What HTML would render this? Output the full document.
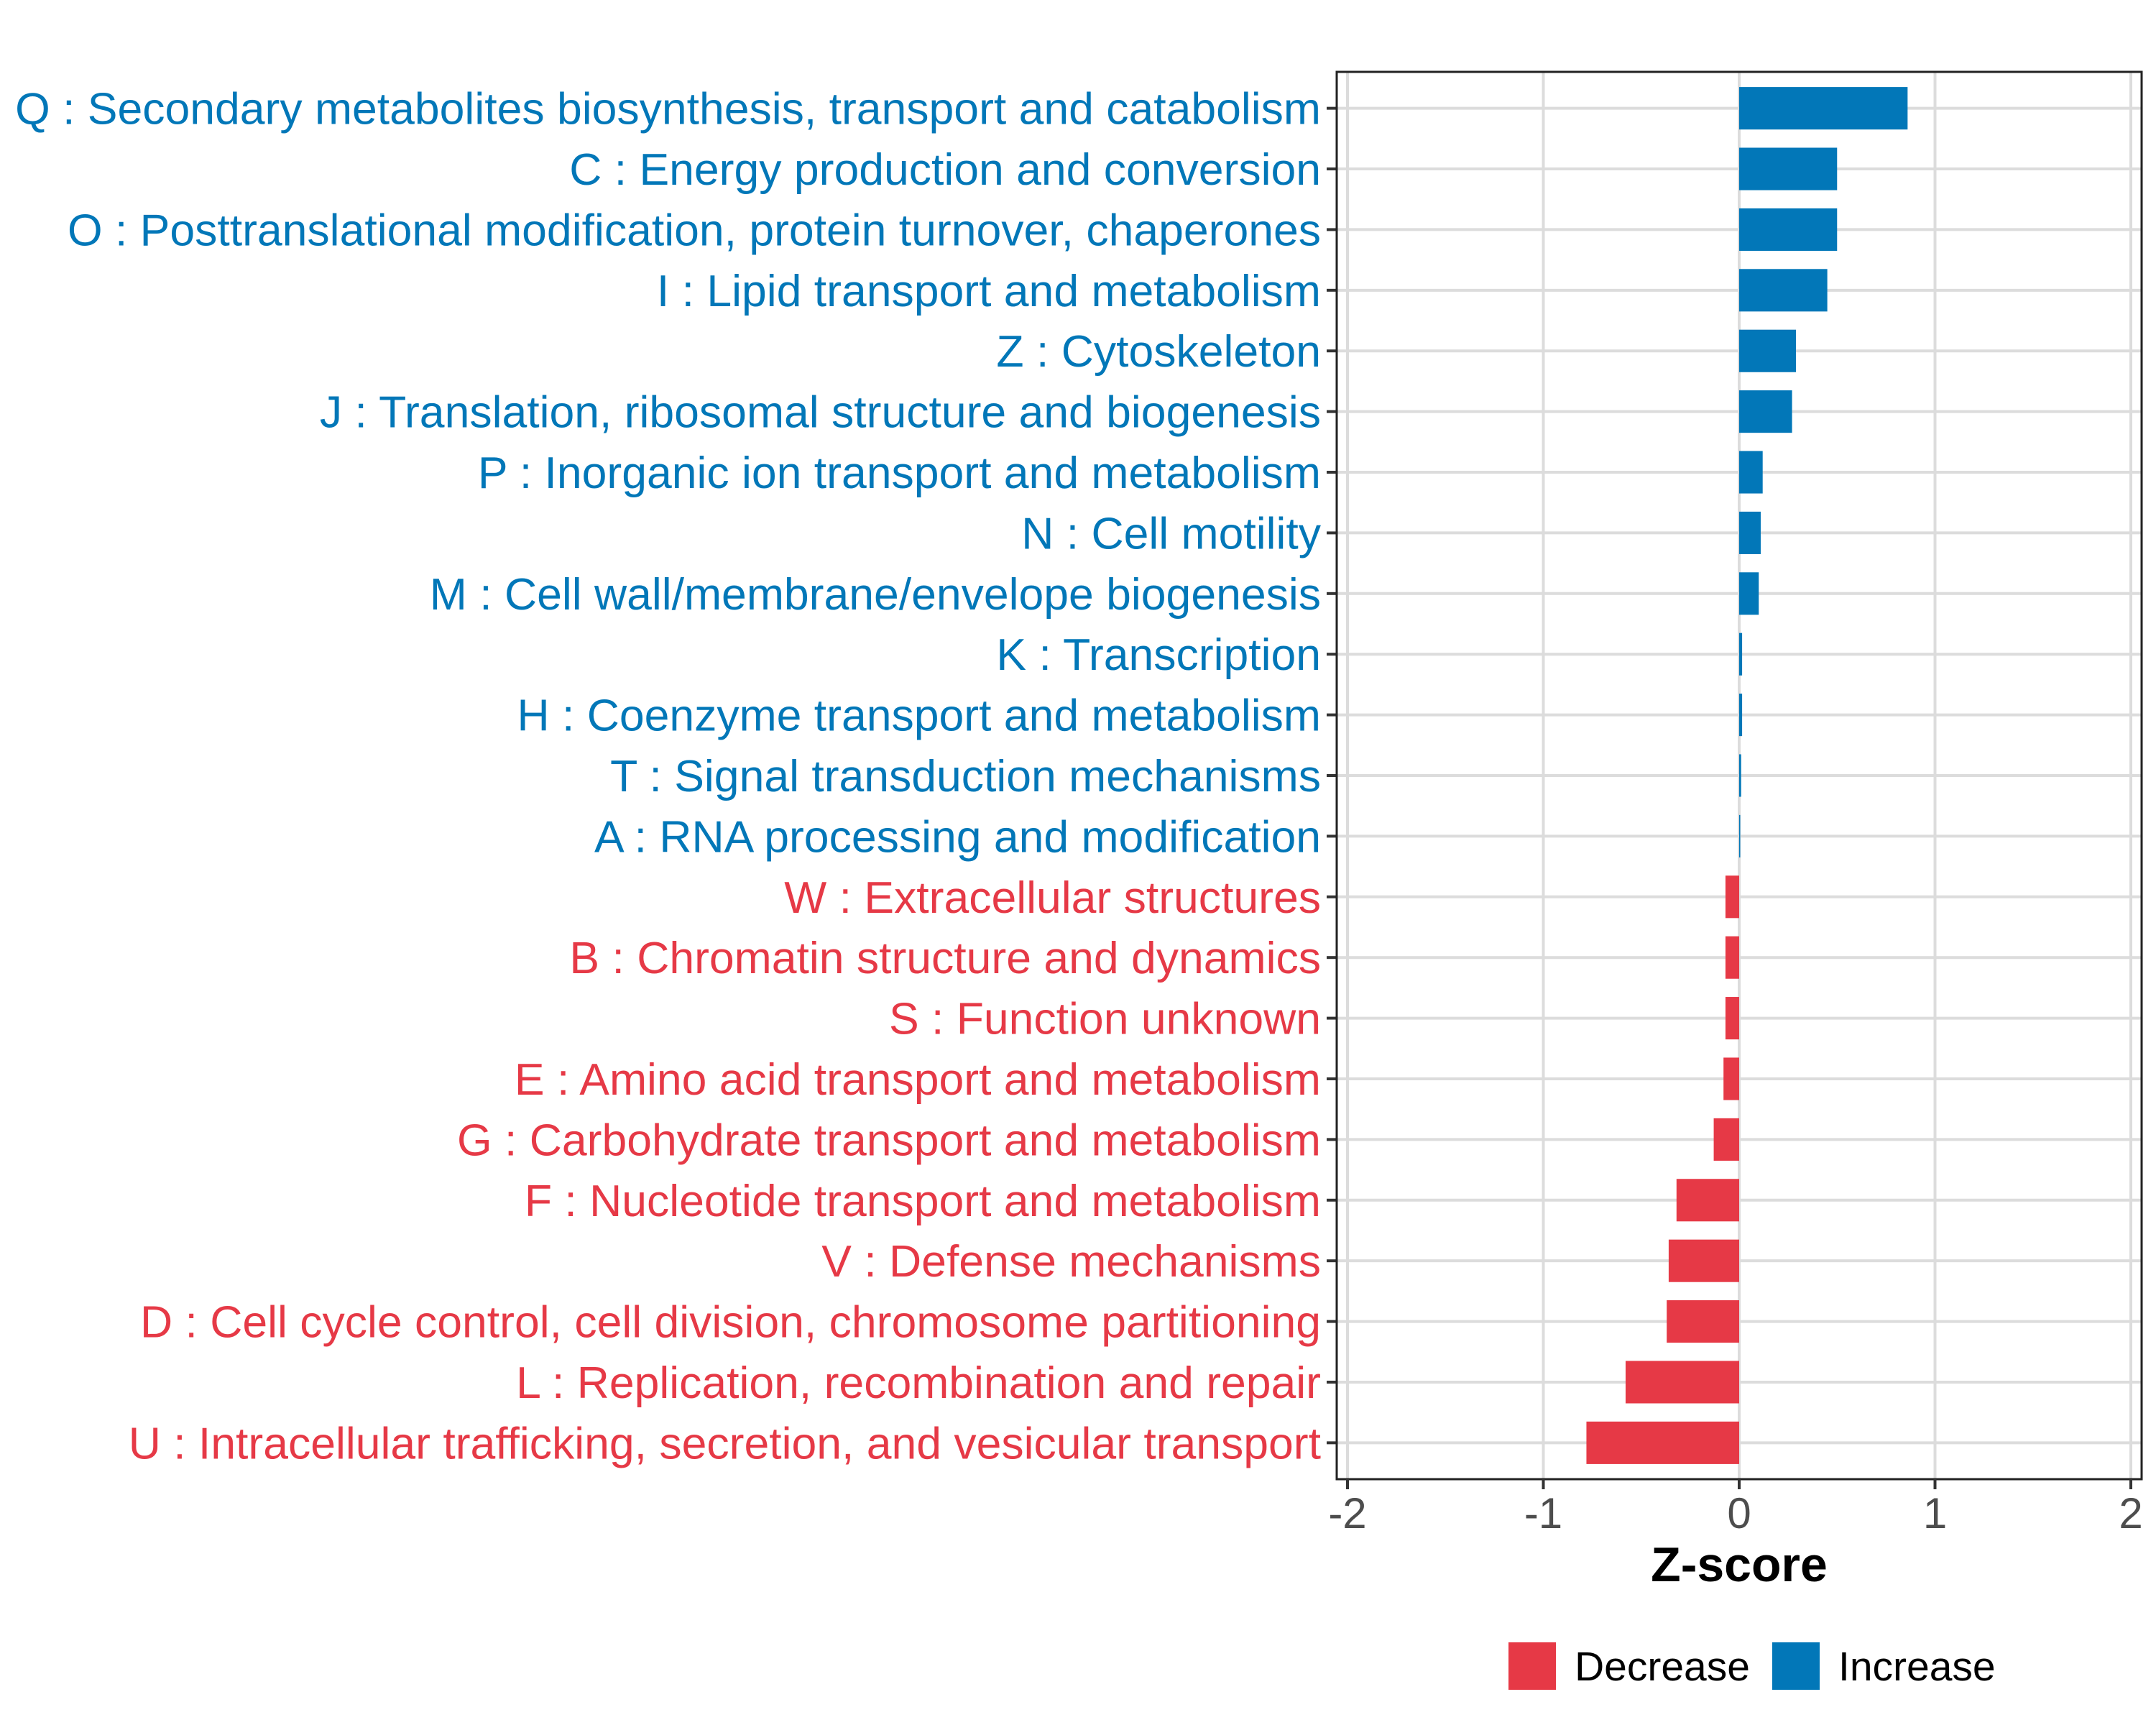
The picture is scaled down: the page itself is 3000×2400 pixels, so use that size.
<!DOCTYPE html>
<html><head><meta charset="utf-8"><style>html,body{margin:0;padding:0;background:#fff}svg{display:block}</style></head>
<body>
<svg id="chart" width="3000" height="2400" xmlns="http://www.w3.org/2000/svg" font-family="Liberation Sans, Arial, sans-serif"></svg>
<script>
const categories = ["Q : Secondary metabolites biosynthesis, transport and catabolism","C : Energy production and conversion","O : Posttranslational modification, protein turnover, chaperones","I : Lipid transport and metabolism","Z : Cytoskeleton","J : Translation, ribosomal structure and biogenesis","P : Inorganic ion transport and metabolism","N : Cell motility","M : Cell wall/membrane/envelope biogenesis","K : Transcription","H : Coenzyme transport and metabolism","T : Signal transduction mechanisms","A : RNA processing and modification","W : Extracellular structures","B : Chromatin structure and dynamics","S : Function unknown","E : Amino acid transport and metabolism","G : Carbohydrate transport and metabolism","F : Nucleotide transport and metabolism","V : Defense mechanisms","D : Cell cycle control, cell division, chromosome partitioning","L : Replication, recombination and repair","U : Intracellular trafficking, secretion, and vesicular transport"];
const zscores = [0.86,0.50,0.50,0.45,0.29,0.27,0.12,0.11,0.10,0.015,0.015,0.01,0.005,-0.07,-0.07,-0.07,-0.08,-0.13,-0.32,-0.36,-0.37,-0.58,-0.78];
const xTicks = [-2,-1,0,1,2];
const xTickLabels = ["-2","-1","0","1","2"];
const legendLabels = ["Decrease","Increase"];

const NS="http://www.w3.org/2000/svg";
const svg=document.getElementById('chart');
const BLUE="#0277b8", RED="#e63946";
const PL=1860, PR=2980, PT=100, PB=2058;
const xScale=v=>2420+v*272.5;
const n=categories.length;
const step=(PB-PT)/(n+0.2);
const yScale=i=>PT+step*0.6+i*step;
function mk(t,a,p){const e=document.createElementNS(NS,t);for(const k in a)e.setAttribute(k,a[k]);(p||svg).appendChild(e);return e;}

xTicks.forEach((t,i)=>{
  const g=mk('line',{x1:xScale(t),x2:xScale(t),y1:PT,y2:PB,stroke:'#dcdcdc','stroke-width':4});
  
  
});
categories.forEach((c,i)=>{
  const g=mk('line',{x1:PL,x2:PR,y1:yScale(i),y2:yScale(i),stroke:'#dcdcdc','stroke-width':4});
  
  
});
const bh=step*0.7;
categories.forEach((c,i)=>{
  const v=zscores[i];
  const x0=Math.min(xScale(0),xScale(v)), w=Math.abs(xScale(v)-xScale(0));
  const r=mk('rect',{x:x0,y:yScale(i)-bh/2,width:Math.max(w,1.5),height:bh,fill:v>=0?BLUE:RED});
  
  
  const tk=mk('line',{x1:PL-14,x2:PL,y1:yScale(i),y2:yScale(i),stroke:'#333','stroke-width':4});
  
  
  const t=mk('text',{x:PL-22,y:yScale(i)+22,'text-anchor':'end','font-size':62.5,fill:v>=0?BLUE:RED});
  t.textContent=c;
  
  
});
const b=mk('rect',{x:PL,y:PT,width:PR-PL,height:PB-PT,fill:'none',stroke:'#222','stroke-width':3});


xTicks.forEach((t,i)=>{
  const l=mk('line',{x1:xScale(t),x2:xScale(t),y1:PB,y2:PB+14,stroke:'#333','stroke-width':4});
  
  
  const tx=mk('text',{x:xScale(t),y:PB+68,'text-anchor':'middle','font-size':60,fill:'#4d4d4d'});
  tx.textContent=xTickLabels[i];
  
  
});
const xt=mk('text',{x:xScale(0),y:2200,'text-anchor':'middle','font-size':68,'font-weight':'bold',fill:'#000'});
xt.textContent="Z-score";


const lx=[2099,2466], lc=[RED,BLUE];
legendLabels.forEach((lab,i)=>{
  const r=mk('rect',{x:lx[i],y:2285,width:66,height:66,fill:lc[i]});
  
  
  const t=mk('text',{x:lx[i]+92,y:2338,'font-size':57,fill:'#000'});
  t.textContent=lab;
  
  
});
</script>
</body></html>
